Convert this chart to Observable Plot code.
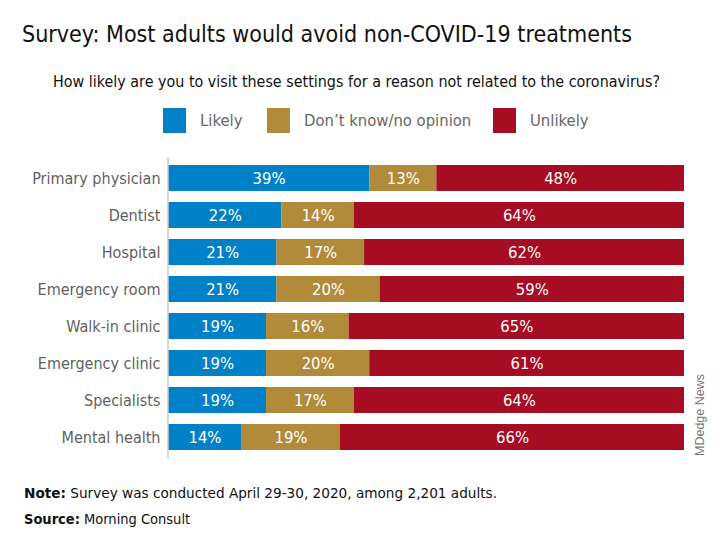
<!DOCTYPE html>
<html><head><meta charset="utf-8">
<script src="https://cdn.jsdelivr.net/npm/d3@7"></script>
<script src="https://cdn.jsdelivr.net/npm/@observablehq/plot@0.6"></script>
<style>
body{margin:0;background:#fff;width:720px;height:552px;position:relative;overflow:hidden;font-family:"DejaVu Sans Condensed","DejaVu Sans",sans-serif;}
.fit{position:absolute;white-space:nowrap;transform-origin:0 0;}
#title{left:22px;top:20px;font-size:23.5px;color:#111;}
#sub{top:72px;font-size:16.5px;color:#111;}
#legend{position:absolute;top:108px;left:0;height:25px;}
.sw{position:absolute;top:0;width:23px;height:25px;}
.lb{position:absolute;top:3px;font-size:16.5px;color:#666;white-space:nowrap;}
#chart{position:absolute;left:0;top:145px;}
#note{left:24px;top:485px;font-size:14.5px;color:#111;}
#src{left:24px;top:511px;font-size:14.5px;color:#111;}
#credit{position:absolute;left:693px;top:456px;transform:rotate(-90deg);transform-origin:0 0;font-family:"Liberation Sans","DejaVu Sans",sans-serif;font-size:12.5px;color:#777;white-space:nowrap;}
</style></head>
<body>
<div id="title" class="fit">Survey: Most adults would avoid non-COVID-19 treatments</div>
<div id="sub" class="fit">How likely are you to visit these settings for a reason not related to the coronavirus?</div>
<div id="legend"></div>
<div id="chart"></div>
<div id="note" class="fit"><b>Note:</b> Survey was conducted April 29-30, 2020, among 2,201 adults.</div>
<div id="src" class="fit"><b>Source:</b> Morning Consult</div>
<div id="credit">MDedge News</div>
<script>
const settings = ["Primary physician","Dentist","Hospital","Emergency room","Walk-in clinic","Emergency clinic","Specialists","Mental health"];
const likely  = [39,22,21,21,19,19,19,14];
const dontKnow = [13,14,17,20,16,20,17,19];
const unlikely = [48,64,62,59,65,61,64,66];
const seriesNames = ["Likely","Don\u2019t know/no opinion","Unlikely"];
const seriesColors = ["#0080c6","#b18b3a","#a60c22"];

const values = [likely, dontKnow, unlikely];
const rows = [];
settings.forEach((s, i) => {
  values.forEach((arr, k) => {
    rows.push({setting: s, series: seriesNames[k], value: arr[i]});
  });
});

// fit text widths to the reference
function fitWidth(id, target, centerX) {
  const el = document.getElementById(id);
  const w = el.getBoundingClientRect().width;
  const s = target / w;
  el.style.transform = `scaleX(${s})`;
  if (centerX != null) el.style.left = (centerX - target / 2) + "px";
}
fitWidth("title", 610);
fitWidth("sub", 607, 356.5);
fitWidth("note", 473);

// legend
const legendPos = [163, 267, 493];
const lg = document.getElementById("legend");
seriesNames.forEach((n, k) => {
  const sw = document.createElement("div");
  sw.className = "sw"; sw.style.left = legendPos[k] + "px"; sw.style.background = seriesColors[k];
  const lb = document.createElement("div");
  lb.className = "lb"; lb.style.left = (legendPos[k] + 37) + "px"; lb.textContent = n;
  lg.appendChild(sw); lg.appendChild(lb);
});

const plot = Plot.plot({
  width: 720,
  height: 318,
  marginTop: 12,
  marginBottom: 5,
  marginLeft: 168,
  marginRight: 36,
  style: {fontFamily: '"DejaVu Sans Condensed","DejaVu Sans",sans-serif', fontSize: "16px", background: "transparent"},
  x: {domain: [0, 1], axis: null},
  y: {domain: settings, paddingInner: 0.3, paddingOuter: 0.15, label: null},
  color: {domain: seriesNames, range: seriesColors},
  marks: [
    Plot.barX(rows, Plot.stackX({offset: "normalize", y: "setting", x: "value", fill: "series"})),
    Plot.text(rows, Plot.stackX({offset: "normalize", y: "setting", x: "value", z: "series", text: d => d.value + "%", fill: "white", fontSize: 16.5})),
    Plot.axisY({tickSize: 0, tickPadding: 8, fill: "#5f5f5f", fontSize: 16, label: null}),
    Plot.ruleX([0], {stroke: "#ccc", strokeWidth: 1.5, dx: -0.5})
  ]
});
document.getElementById("chart").appendChild(plot);
</script>
</body></html>
